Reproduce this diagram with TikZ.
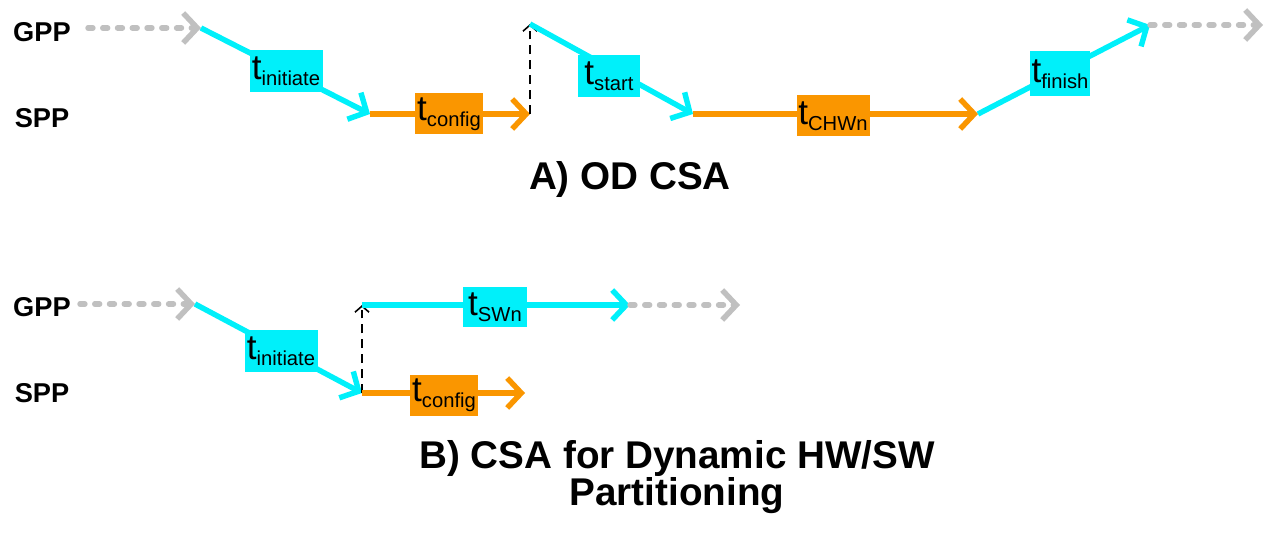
\documentclass[tikz,border=0pt]{standalone}
\usepackage{fontspec}
\setmainfont{Liberation Sans}
\usetikzlibrary{arrows.meta}
\definecolor{cy}{RGB}{0,240,250}
\definecolor{orng}{RGB}{250,150,0}
\definecolor{gr}{RGB}{192,192,192}
\newcommand{\tsub}[1]{{\fontsize{20}{20}\selectfont t}\raisebox{-3.5pt}{\fontsize{11.5}{11.5}\selectfont #1}}
\begin{document}
\begin{tikzpicture}[x=0.02cm,y=-0.02cm,
  chev/.style={-{Straight Barb[length=8pt,width=17pt]}},
  cyline/.style={draw=cy,line width=3.1pt,chev},
  orline/.style={draw=orng,line width=3.1pt,chev},
  grline/.style={draw=gr,line width=3.1pt,line cap=round,dash pattern=on 2.8pt off 5.6pt,chev},
  sync/.style={draw=black,line width=0.9pt,dash pattern=on 5pt off 3.5pt,-{Straight Barb[length=3.5pt,width=8pt]}},
  cybox/.style={fill=cy,inner sep=0pt,minimum width=#1*0.02cm,minimum height=42*0.02cm},
  orbox/.style={fill=orng,inner sep=0pt,minimum width=#1*0.02cm,minimum height=41*0.02cm},
  proc/.style={font=\fontsize{15.5}{15.5}\selectfont\bfseries},
  title/.style={font=\fontsize{22}{21}\selectfont\bfseries,align=center}]
\useasboundingbox (0,0) rectangle (1270,533);
% ---------- A ----------
\node[proc] (gppA) at (42,32) {GPP};
\node[proc] (sppA) at (42,118) {SPP};
\coordinate (gA0) at (88,28);
\coordinate (gA1) at (201,28);
\coordinate (sA1) at (370,114);
\coordinate (sA2) at (530,114);
\coordinate (gA2) at (530,24);
\coordinate (sA3) at (693,114);
\coordinate (sA4) at (978,114);
\coordinate (gA3) at (1150,25);
\coordinate (gA4) at (1263,25);
\draw[grline] (gA0) -- (gA1);
\draw[cyline] (gA1) -- (sA1);
\draw[orline] (sA1) -- (sA2);
\draw[sync] (sA2) -- (gA2);
\draw[cyline] (gA2) -- (sA3);
\draw[orline] (sA3) -- (sA4);
\draw[cyline] (sA4) -- (gA3);
\draw[grline] (gA3) -- (gA4);
\node[cybox=73] (tiA) at (286,71) {\tsub{initiate}};
\node[orbox=68] (tcA) at (449,114) {\tsub{config}};
\node[cybox=62] (tsA) at (609,76) {\tsub{start}};
\node[orbox=73] (thA) at (833,116) {\tsub{CHWn}};
\node[cybox=60,minimum height=45*0.02cm] (tfA) at (1060,74) {\tsub{finish}};
\node[title] (titA) at (630,180) {A) OD CSA};
% ---------- B ----------
\node[proc] (gppB) at (42,307) {GPP};
\node[proc] (sppB) at (42,393) {SPP};
\coordinate (gB0) at (80,304);
\coordinate (gB1) at (195,304);
\coordinate (sB1) at (362,393);
\coordinate (gB2) at (362,305);
\coordinate (gB3) at (630,305);
\coordinate (gB4) at (740,305);
\coordinate (sB2) at (525,393);
\draw[grline] (gB0) -- (gB1);
\draw[cyline] (gB1) -- (sB1);
\draw[sync] (sB1) -- (gB2);
\draw[cyline] (gB2) -- (gB3);
\draw[grline] (gB3) -- (gB4);
\draw[orline] (sB1) -- (sB2);
\node[cybox=73] (tiB) at (281,351) {\tsub{initiate}};
\node[cybox=64,minimum height=40*0.02cm] (tsB) at (495,307) {\tsub{SWn}};
\node[orbox=68] (tcB) at (444,395) {\tsub{config}};
\node[title] (titB) at (677,477) {B) CSA for Dynamic HW/SW\\Partitioning};
\end{tikzpicture}
\end{document}
